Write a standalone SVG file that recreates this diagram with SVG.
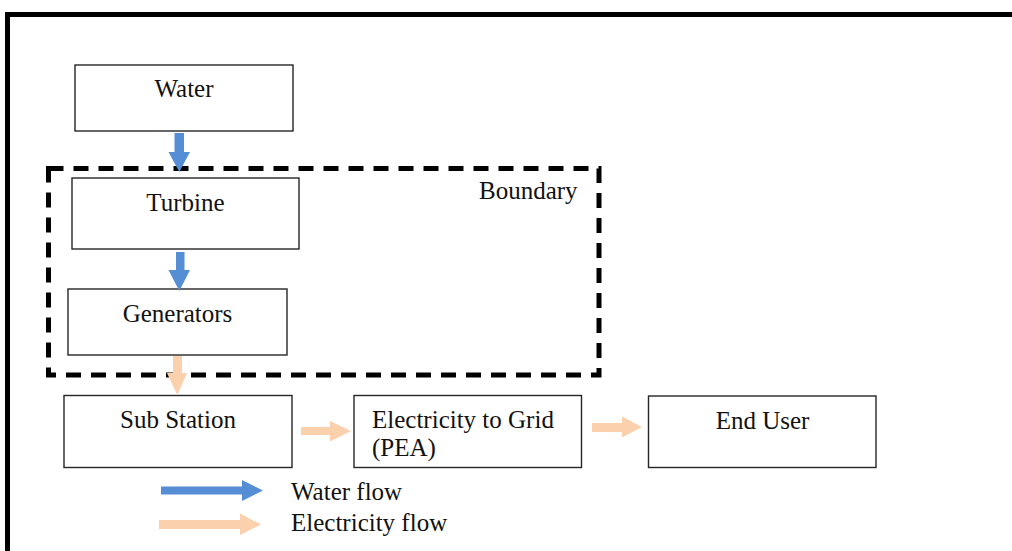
<svg xmlns="http://www.w3.org/2000/svg" width="1012" height="551" viewBox="0 0 1012 551">
<style>
.box{fill:#fff;stroke:#262626;stroke-width:1.4}
.t{font-family:"Liberation Serif","Times New Roman",serif;font-size:25px;fill:#111}
.blue{fill:#558ED5}
.peach{fill:#FBD0AC}
</style>
<rect width="1012" height="551" fill="#fff"/>
<path d="M7.5,551 V14.5 H1012" fill="none" stroke="#000" stroke-width="5"/>
<g id="boundary">
<rect x="48.5" y="168.5" width="550.5" height="206.5" fill="none" stroke="#000" stroke-width="5" stroke-dasharray="15 10"/>
<text class="t" x="479" y="199">Boundary</text>
</g>
<g id="water"><rect class="box" x="75" y="65" width="218" height="66"/><text class="t" x="184" y="97" text-anchor="middle">Water</text></g>
<g id="turbine"><rect class="box" x="72" y="178" width="227" height="71"/><text class="t" x="185.5" y="211" text-anchor="middle">Turbine</text></g>
<g id="generators"><rect class="box" x="68" y="289" width="219" height="66"/><text class="t" x="177.5" y="322" text-anchor="middle">Generators</text></g>
<g id="substation"><rect class="box" x="64" y="395.5" width="228" height="72"/><text class="t" x="178" y="428" text-anchor="middle">Sub Station</text></g>
<g id="grid"><rect class="box" x="354" y="395.5" width="227.5" height="72"/><text class="t" x="372" y="428">Electricity to Grid</text><text class="t" x="372" y="456">(PEA)</text></g>
<g id="enduser"><rect class="box" x="648.5" y="396" width="227.5" height="71.5"/><text class="t" x="762.5" y="428.5" text-anchor="middle">End User</text></g>
<g id="connectors">
<path class="blue" d="M174.5,133 H184 V152 H190 L179.3,172 L168.5,152 H174.5 Z"/>
<path class="blue" d="M176,252 H184.5 V270 H190 L179.3,291 L168.5,270 H176 Z"/>
<path class="peach" d="M173,356 H182 V373 H187 L177.3,395 L167,373 H173 Z"/>
<path class="peach" d="M301,427 H330 V421 L351,431 L330,441.5 V435 H301 Z"/>
<path class="peach" d="M592,423 H622 V416.5 L642,427 L622,437.5 V432 H592 Z"/>
</g>
<g id="legend">
<path class="blue" d="M161,486.5 H242 V480 L263,490.5 L242,501 V494.5 H161 Z"/>
<path class="peach" d="M159,520 H240 V513.5 L261,524.5 L240,535 V529 H159 Z"/>
<text class="t" x="291" y="500">Water flow</text>
<text class="t" x="291" y="531">Electricity flow</text>
</g>
</svg>
